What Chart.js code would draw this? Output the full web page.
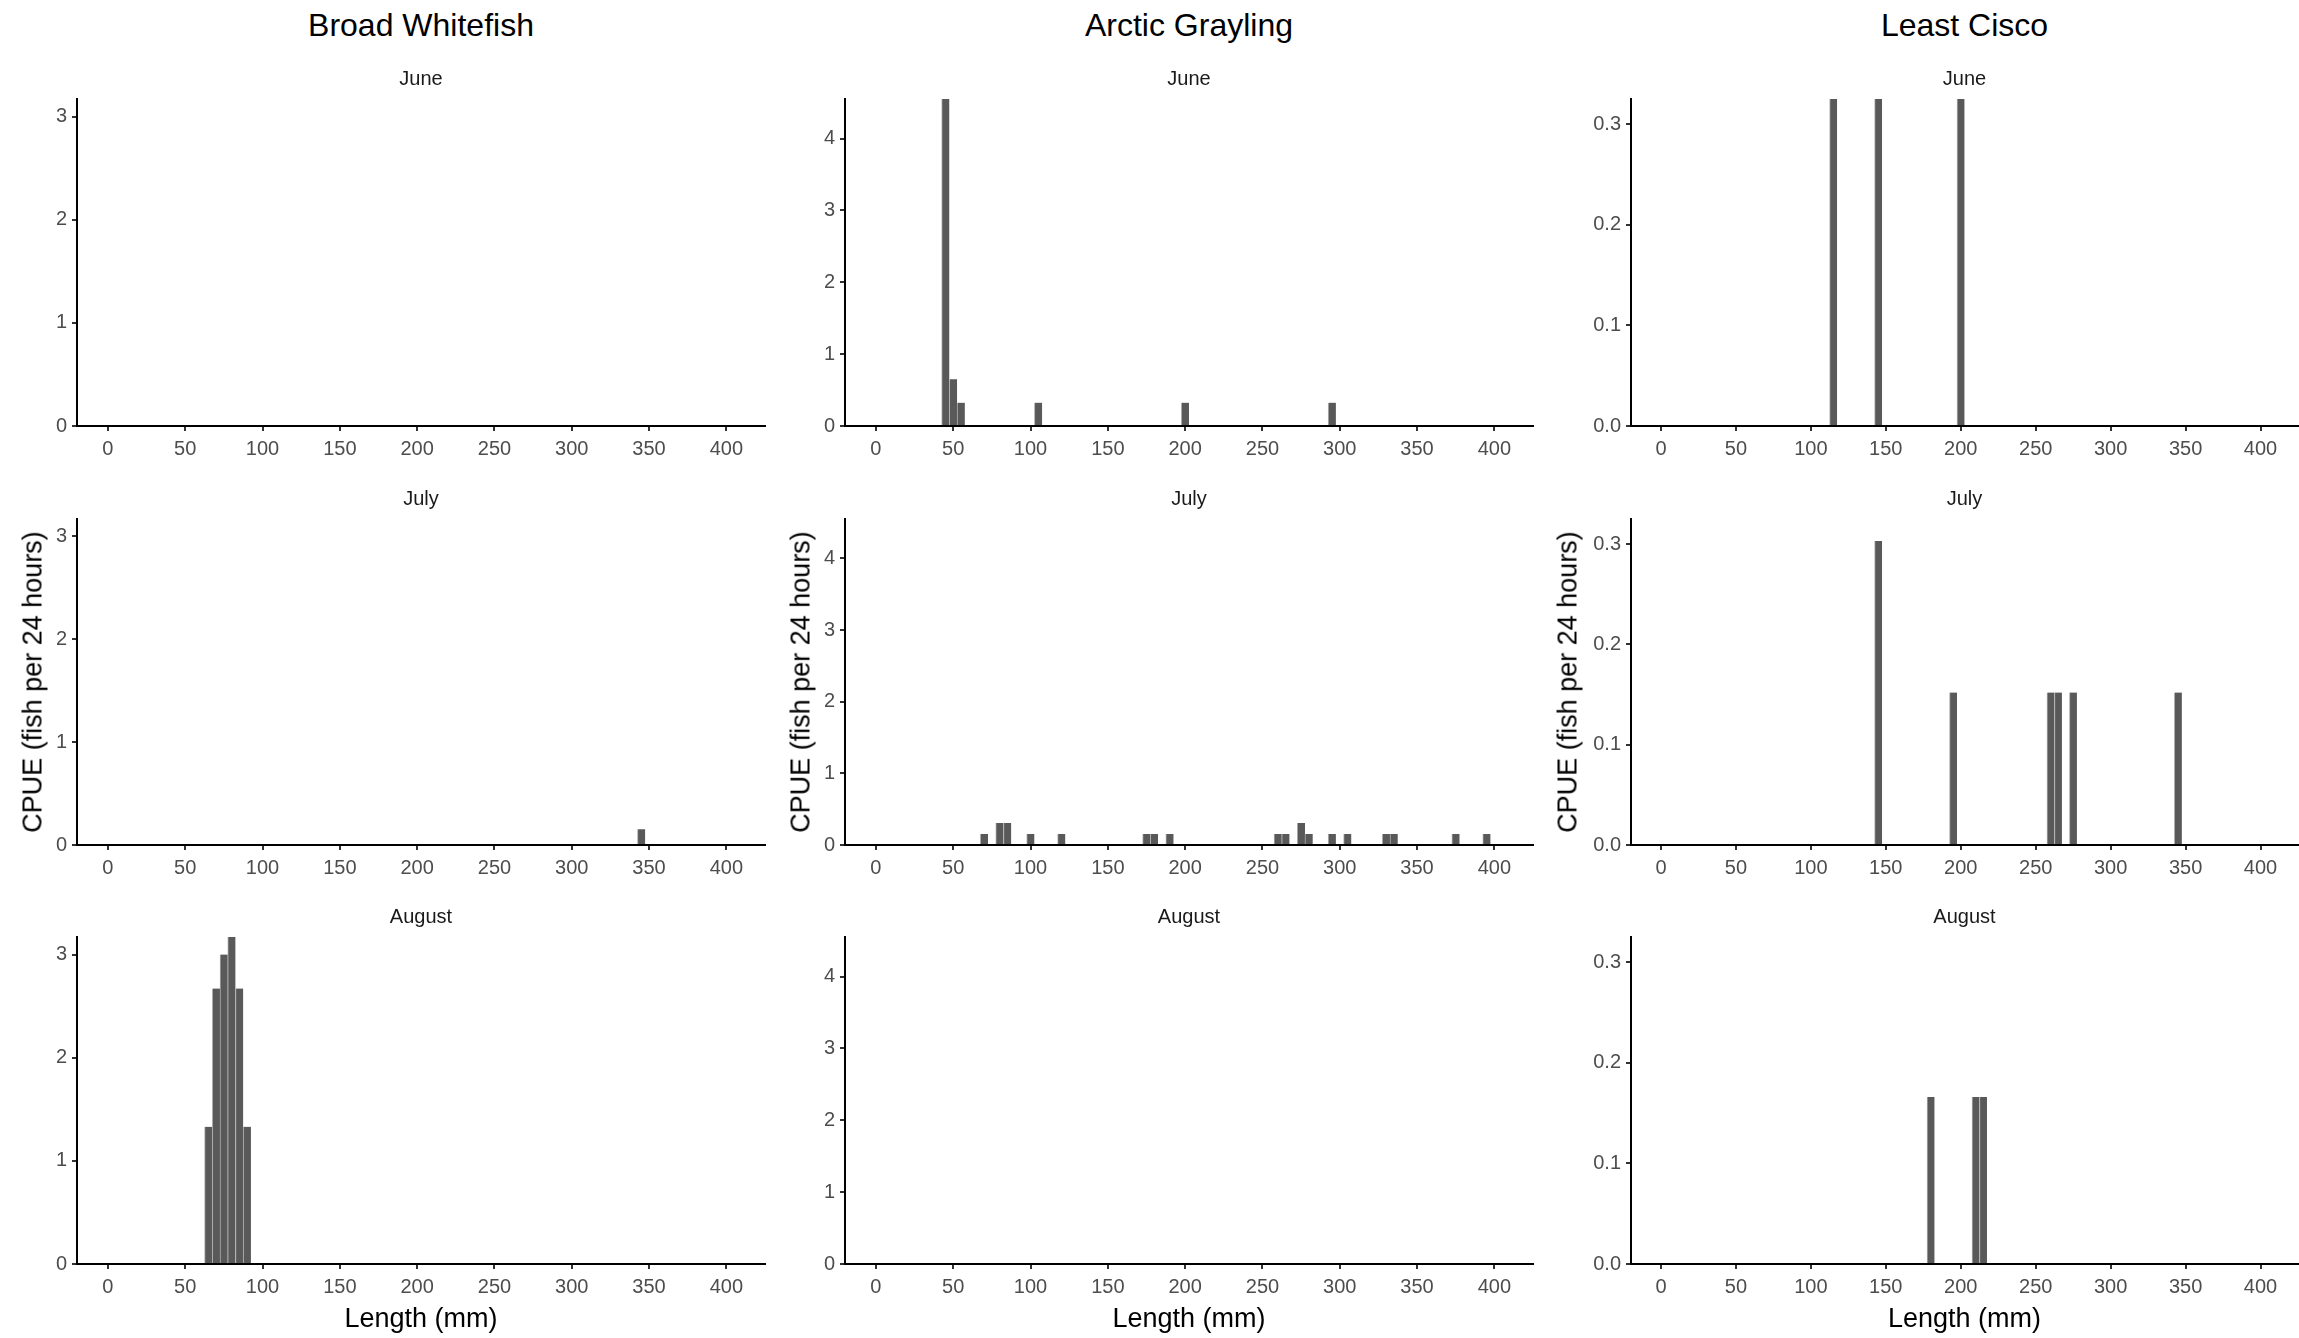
<!DOCTYPE html>
<html>
<head>
<meta charset="utf-8">
<title>CPUE by length</title>
<script src="https://cdn.jsdelivr.net/npm/chart.js@4.4.1/dist/chart.umd.min.js"></script>
<style>
  html, body { margin: 0; padding: 0; background: #fff; }
  #page { position: relative; width: 2299px; height: 1338px; overflow: hidden; }
  #page canvas { position: absolute; }
  .lbl {
    position: absolute;
    transform: translate(-50%, -50%);
    font-family: "Liberation Sans", Arial, sans-serif;
    color: #000;
    white-space: nowrap;
    line-height: 1;
    z-index: 2;
  }
  .species { font-size: 32px; }
  .xtitle { font-size: 27px; }
  .ytitle { font-size: 27px; transform: translate(-50%, -50%) rotate(-90deg); }
</style>
</head>
<body>
<div id="page"></div>
<script>
/*============ DATA ============*/
const species = ['Broad Whitefish', 'Arctic Grayling', 'Least Cisco'];
const months = ['June', 'July', 'August'];
const lengthTicks = [0, 50, 100, 150, 200, 250, 300, 350, 400];
const binWidth = 5;

// Broad Whitefish
const bwJuneLen = [];
const bwJuneCpue = [];
const bwJulyLen = [345];
const bwJulyCpue = [0.154];
const bwAugLen = [65, 70, 75, 80, 85, 90];
const bwAugCpue = [1.33, 2.67, 3.0, 3.17, 2.67, 1.33];
const bwTicks = [0, 1, 2, 3];

// Arctic Grayling
const agJuneLen = [45, 50, 55, 105, 200, 295];
const agJuneCpue = [4.55, 0.65, 0.325, 0.325, 0.325, 0.325];
const agJulyLen = [70, 80, 85, 100, 120, 175, 180, 190, 260, 265, 275, 280, 295, 305, 330, 335, 375, 395];
const agJulyCpue = [0.154, 0.308, 0.308, 0.154, 0.154, 0.154, 0.154, 0.154, 0.154, 0.154, 0.308, 0.154, 0.154, 0.154, 0.154, 0.154, 0.154, 0.154];
const agAugLen = [];
const agAugCpue = [];
const agTicks = [0, 1, 2, 3, 4];

// Least Cisco
const lcJuneLen = [115, 145, 200];
const lcJuneCpue = [0.325, 0.325, 0.325];
const lcJulyLen = [145, 195, 260, 265, 275, 345];
const lcJulyCpue = [0.303, 0.152, 0.152, 0.152, 0.152, 0.152];
const lcAugLen = [180, 210, 215];
const lcAugCpue = [0.166, 0.166, 0.166];
const lcTicks = [0, 0.1, 0.2, 0.3];

/*============ LAYOUT ============*/
const xMin = -20, xMax = 425;
const colPanel = [[77, 765], [845, 1533], [1631, 2298]];
const rowPanel = [[99, 426], [519, 845], [937, 1264]];
const yAxisW = 60, titleH = 40, xAxisH = 40;

const panels = [
  { lens: [bwJuneLen, bwJulyLen, bwAugLen], vals: [bwJuneCpue, bwJulyCpue, bwAugCpue], ticks: bwTicks, dec: 0 },
  { lens: [agJuneLen, agJulyLen, agAugLen], vals: [agJuneCpue, agJulyCpue, agAugCpue], ticks: agTicks, dec: 0 },
  { lens: [lcJuneLen, lcJulyLen, lcAugLen], vals: [lcJuneCpue, lcJulyCpue, lcAugCpue], ticks: lcTicks, dec: 1 }
];

Chart.defaults.font.family = '"Liberation Sans", Arial, sans-serif';
const page = document.getElementById('page');

function addLabel(cls, text, x, y) {
  const d = document.createElement('div');
  d.className = 'lbl ' + cls;
  d.textContent = text;
  d.style.left = x + 'px';
  d.style.top = y + 'px';
  page.appendChild(d);
}

panels.forEach(function (sp, c) {
  const [pl, pr] = colPanel[c];
  const yMax = Math.max.apply(null, [].concat(...sp.vals));

  addLabel('species', species[c], (pl + pr) / 2, 25);
  addLabel('xtitle', 'Length (mm)', (pl + pr) / 2, 1318);

  months.forEach(function (m, r) {
    const [pt, pb] = rowPanel[r];
    const cv = document.createElement('canvas');
    const w = yAxisW + (pr - pl) + 2;
    const h = titleH + (pb - pt) + xAxisH;
    cv.width = w; cv.height = h;
    cv.style.left = (pl - yAxisW) + 'px';
    cv.style.top = (pt - titleH) + 'px';
    cv.style.width = w + 'px'; cv.style.height = h + 'px';
    page.appendChild(cv);

    const pts = sp.lens[r].map((x, i) => ({ x: x, y: sp.vals[r][i] }));

    const chart = new Chart(cv, {
      type: 'bar',
      data: {
        datasets: [{
          data: pts,
          backgroundColor: '#595959',
          borderColor: '#b0b0b0',
          borderWidth: { left: 1, right: 0, top: 0, bottom: 0 },
          borderSkipped: false,
          barPercentage: 1,
          categoryPercentage: 1
        }]
      },
      options: {
        responsive: false,
        animation: false,
        devicePixelRatio: 1,
        layout: { padding: { right: 2 } },
        plugins: {
          legend: { display: false },
          tooltip: { enabled: false },
          title: {
            display: true,
            text: m,
            fullSize: false,
            color: '#1a1a1a',
            font: { size: 20, weight: 'normal', lineHeight: 1.2 },
            padding: { top: 8, bottom: 8 }
          }
        },
        scales: {
          x: {
            type: 'linear',
            min: xMin,
            max: xMax,
            offset: false,
            afterFit: s => { s.height = xAxisH; },
            afterBuildTicks: s => { s.ticks = lengthTicks.map(v => ({ value: v })); },
            border: { display: true, color: '#000', width: 2 },
            grid: { offset: false, drawOnChartArea: false, drawTicks: true, tickLength: 5, tickColor: '#333', lineWidth: 2 },
            ticks: { color: '#4d4d4d', font: { size: 20 }, padding: 6, maxRotation: 0, autoSkip: false }
          },
          y: {
            min: 0,
            max: yMax,
            afterFit: s => { s.width = yAxisW; },
            afterBuildTicks: s => { s.ticks = sp.ticks.map(v => ({ value: v })); },
            border: { display: true, color: '#000', width: 2 },
            grid: { drawOnChartArea: false, drawTicks: true, tickLength: 5, tickColor: '#333', lineWidth: 2 },
            ticks: {
              color: '#4d4d4d', font: { size: 20 }, padding: 5,
              callback: v => Number(v).toFixed(sp.dec)
            }
          }
        }
      }
    });

    // one bin (5 mm) wide bars, measured on the library's own x scale
    const xs = chart.scales.x;
    chart.data.datasets[0].barThickness = xs.getPixelForValue(binWidth) - xs.getPixelForValue(0);
    chart.update('none');
  });

  addLabel('ytitle', 'CPUE (fish per 24 hours)', c === 2 ? pl - 63 : pl - 44, (rowPanel[1][0] + rowPanel[1][1]) / 2);
});
</script>
</body>
</html>
